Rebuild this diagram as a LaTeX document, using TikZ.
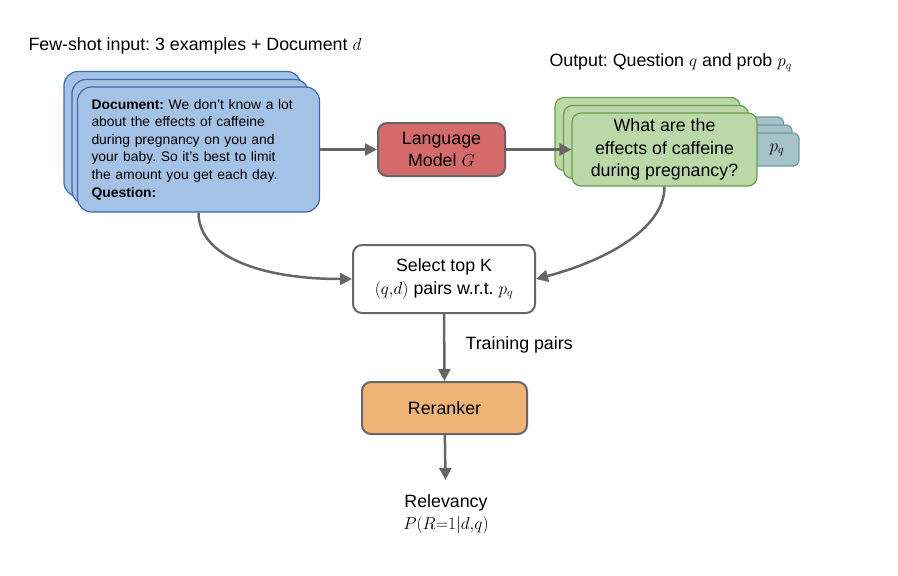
\documentclass[tikz,border=0pt]{standalone}
\usepackage{fontspec}
\setmainfont{Liberation Sans}
\frenchspacing
\usetikzlibrary{arrows.meta}
\definecolor{docfill}{HTML}{A4C2E6}
\definecolor{docline}{HTML}{3D69AD}
\definecolor{lmfill}{HTML}{D46A6A}
\definecolor{qfill}{HTML}{BBD8A9}
\definecolor{qline}{HTML}{6A9F4E}
\definecolor{pfill}{HTML}{A4C2C8}
\definecolor{pline}{HTML}{6E9AA3}
\definecolor{rrfill}{HTML}{EDB475}
\definecolor{linegray}{HTML}{666666}
\begin{document}
\begin{tikzpicture}[x=1pt, y=-1pt,
    every node/.style={font=\fontsize{17.8}{22.5}\selectfont},
    docbox/.style={draw=docline, fill=docfill, line width=1.2pt, rounded corners=14pt, minimum width=237pt, minimum height=125pt},
    qbox/.style={draw=qline, fill=qfill, line width=1.2pt, rounded corners=9pt, minimum width=185pt, minimum height=73pt, align=center},
    pbox/.style={draw=pline, fill=pfill, line width=1.2pt, rounded corners=6pt, minimum width=59pt, minimum height=33pt},
    stepbox/.style={draw=linegray, line width=2pt, rounded corners=9pt, align=center},
    flow/.style={draw=linegray, line width=2.5pt, -{Triangle[length=12pt,width=12pt]}}]
    \useasboundingbox (0,0) rectangle (898,576);
    % few-shot input
    \node [anchor=west] (InTitle) at (25,46) {Few-shot input: 3 examples + Document $d$};
    \node [docbox] (DocC) at (182.5,134) {};
    \node [docbox] (DocB) at (190.5,142) {};
    \node [docbox, align=left, text width=214pt, inner xsep=14pt, font=\fontsize{13.9}{17.6}\selectfont] (DocA) at (198.5,149.5)
        {\textbf{Document:} We don't know a lot\\about the effects of caffeine\\during pregnancy on you and\\your baby. So it's best to limit\\the amount you get each day.\\\textbf{Question:}};
    % generator
    \node [stepbox, fill=lmfill, minimum width=127pt, minimum height=53pt] (LM) at (441.5,149.5) {Language\\Model $G$};
    % output question and prob
    \node [anchor=west] (OutTitle) at (546,63) {Output: Question $q$ and prob $p_q$};
    \node [pbox] (PC) at (754,133.5) {};
    \node [pbox] (PB) at (762.5,141.5) {};
    \node [pbox] (PA) at (769.5,149.5) {};
    \node (PLabel) at (777,150) {$p_q$};
    \node [qbox] (QC) at (647.5,134) {};
    \node [qbox] (QB) at (656,142) {};
    \node [qbox] (Quest) at (664.5,149.5) {What are the\\effects of caffeine\\during pregnancy?};
    % selection and reranker
    \node [stepbox, fill=white, minimum width=182pt, minimum height=68pt] (Select) at (444,279) {Select top K\\$(q{,}d)$ pairs w.r.t. $p_q$};
    \node [stepbox, fill=rrfill, minimum width=165pt, minimum height=52pt] (Rerank) at (444.5,408) {Reranker};
    \node [anchor=west] (TrainLbl) at (462,345) {Training pairs};
    \node [align=center, inner ysep=14pt] (Rel) at (446,514) {Relevancy\\$P(R{=}1|d{,}q)$};
    \path [flow] (DocA) -- (LM);
    \path [flow] (LM) -- (Quest);
    \path [flow] (DocA.south) .. controls +(0,43) and +(-93,0) .. (Select.west);
    \path [flow] (Quest.south) .. controls +(0,44) and +(65,-17) .. (Select.east);
    \path [flow] (Select) -- (Rerank);
    \path [flow] (Rerank) -- (Rel);
\end{tikzpicture}
\end{document}
